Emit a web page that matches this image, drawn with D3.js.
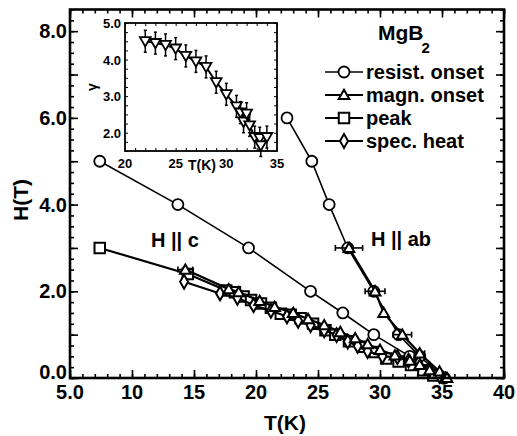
<!DOCTYPE html>
<html>
<head>
<meta charset="utf-8">
<script src="https://cdn.jsdelivr.net/npm/d3@7"></script>
<style>
  body { margin: 0; background: #fff; }
  text { font-family: "Liberation Sans", Arial, sans-serif; font-weight: bold; fill: #000; }
</style>
</head>
<body>
<svg id="chart" width="517" height="436"></svg>
<script>
// Main axis ticks
const xTicks = [5, 10, 15, 20, 25, 30, 35, 40];
const xTickLabels = ["5.0", "10", "15", "20", "25", "30", "35", "40"];
const yTicks = [0, 2, 4, 6, 8];
const yTickLabels = ["0.0", "2.0", "4.0", "6.0", "8.0"];

// resist. onset (circles)
const resistC_T = [7.4, 13.7, 19.4, 24.4, 27.0, 29.5, 32.4, 35.1];
const resistC_H = [5.0, 4.0, 3.0, 2.0, 1.5, 1.0, 0.5, 0.0];
const resistAB_T = [22.5, 24.5, 25.9, 27.4, 29.5, 31.5, 33.2, 35.2];
const resistAB_H = [6.0, 5.0, 4.0, 3.0, 2.0, 1.0, 0.5, 0.0];

// magn. onset (triangles) with T error
const magnAB_T = [27.5, 29.6, 30.3, 31.8, 33.2, 34.8, 35.4];
const magnAB_H = [3.0, 2.0, 1.5, 1.0, 0.57, 0.15, 0.0];
const magnAB_err = [1.1, 0.8, 0, 0.75, 0.4, 0, 0];
const magnC_T = [14.3, 17.8, 18.6, 20.3, 21.5, 23.0, 24.2, 25.5, 26.8, 28.0, 29.0, 30.0, 31.2, 32.4, 33.2, 34.0, 35.3];
const magnC_H = [2.5, 2.05, 1.98, 1.78, 1.64, 1.5, 1.36, 1.22, 1.06, 0.92, 0.78, 0.65, 0.52, 0.4, 0.3, 0.18, 0.0];
const magnC_err = [0.6, 0, 0, 0, 0, 0, 0, 0, 0, 0, 0, 0, 0, 0, 0, 0, 0];

// peak (squares)
const peak_T = [7.4, 14.5, 17.6, 18.3, 19.0, 19.6, 20.4, 21.2, 22.0, 22.8, 23.6, 24.6, 25.6, 26.4, 27.5, 28.6, 29.6, 30.5, 31.5, 32.5, 33.5, 34.3];
const peak_H = [3.0, 2.4, 2.02, 1.98, 1.88, 1.80, 1.72, 1.62, 1.48, 1.46, 1.38, 1.25, 1.10, 1.0, 0.85, 0.72, 0.6, 0.45, 0.38, 0.3, 0.18, 0.06];

// spec. heat (diamonds)
const spec_T = [14.2, 17.1, 18.5, 19.8, 21.2, 22.5, 23.4, 24.4, 25.5, 26.5, 27.4, 28.2, 29.0, 30.2, 31.4, 32.3, 33.1, 34.0, 34.8];
const spec_H = [2.22, 1.95, 1.85, 1.68, 1.55, 1.42, 1.32, 1.22, 1.1, 0.99, 0.84, 0.74, 0.62, 0.5, 0.48, 0.4, 0.34, 0.2, 0.05];

// Inset: gamma vs T
const inset_T = [22, 23, 24, 25, 26, 27, 28, 29, 30, 31, 31.4, 31.7, 32.0, 32.3, 32.8, 33.3, 33.4, 34.0];
const inset_G = [4.5, 4.45, 4.4, 4.3, 4.1, 3.95, 3.8, 3.38, 3.05, 2.72, 2.55, 2.3, 2.52, 2.2, 1.88, 1.85, 1.65, 1.88];
const inset_err = [0.3, 0.3, 0.3, 0.3, 0.3, 0.3, 0.3, 0.3, 0.3, 0.3, 0.3, 0.3, 0.3, 0.3, 0.3, 0.3, 0.3, 0.3];
const insetXTicks = [20, 25, 30, 35];
const insetYTicks = [2, 3, 4, 5];
const insetYTickLabels = ["2.0", "3.0", "4.0", "5.0"];

const legendNames = ["resist. onset", "magn. onset", "peak", "spec. heat"];

const svg = d3.select("#chart");

const x = d3.scaleLinear().domain([5, 40]).range([70, 504]);
const y = d3.scaleLinear().domain([0, 8.5]).range([378, 9.5]);

// Markers
function drawMarker(g, kind, cx, cy) {
  if (kind === "circle") {
    g.append("circle").attr("cx", cx).attr("cy", cy).attr("r", 5.5)
      .attr("fill", "#fff").attr("stroke", "#000").attr("stroke-width", 1.8);
  } else {
    const sym = { tri: d3.symbolTriangle, square: d3.symbolSquare, diamond: d3.symbolDiamond }[kind];
    const size = { tri: 50, square: 110, diamond: 55 }[kind];
    g.append("path").attr("d", d3.symbol().type(sym).size(size)())
      .attr("transform", `translate(${cx},${cy + (kind === "tri" ? 1 : 0)})`)
      .attr("fill", "#fff").attr("stroke", "#000").attr("stroke-width", 2);
  }
}

function drawSeries(Ts, Hs, kind, width, errs) {
  const pts = Ts.map((t, i) => [x(t), y(Hs[i])]);
  svg.append("path").attr("d", d3.line()(pts))
    .attr("fill", "none").attr("stroke", "#000").attr("stroke-width", width);
  if (errs) {
    Ts.forEach((t, i) => {
      if (!errs[i]) return;
      const yy = y(Hs[i]);
      svg.append("line").attr("x1", x(t - errs[i])).attr("x2", x(t + errs[i]))
        .attr("y1", yy).attr("y2", yy).attr("stroke", "#000").attr("stroke-width", 1.6);
      [t - errs[i], t + errs[i]].forEach(e => {
        svg.append("line").attr("x1", x(e)).attr("x2", x(e))
          .attr("y1", yy - 3).attr("y2", yy + 3).attr("stroke", "#000").attr("stroke-width", 1.6);
      });
    });
  }
  pts.forEach(p => drawMarker(svg, kind, p[0], p[1]));
}

// Data
drawSeries(resistC_T, resistC_H, "circle", 1.6);
drawSeries(resistAB_T, resistAB_H, "circle", 1.6);
drawSeries(peak_T, peak_H, "square", 2.2);
drawSeries(spec_T, spec_H, "diamond", 2.2);
drawSeries(magnC_T, magnC_H, "tri", 2.2, magnC_err);
drawSeries(magnAB_T, magnAB_H, "tri", 2.2, magnAB_err);

// Axes with inward ticks on all four sides
function tickRange(a, b, step) { return d3.range(a, b + step / 2, step); }
const xMinor = tickRange(5, 40, 1);
const yMinor = tickRange(0, 8.5, 0.25);

function addAxis(axisFn, scale, transform, values, size) {
  svg.append("g").attr("transform", transform)
    .call(axisFn(scale).tickValues(values).tickSize(size).tickFormat(""))
    .call(g => g.select(".domain").remove())
    .selectAll("line").attr("stroke-width", 1.6);
}
addAxis(d3.axisBottom, x, "translate(0,378)", xMinor, -4);
addAxis(d3.axisBottom, x, "translate(0,378)", xTicks, -8);
addAxis(d3.axisTop, x, "translate(0,9.5)", xMinor, -4);
addAxis(d3.axisTop, x, "translate(0,9.5)", xTicks, -8);
addAxis(d3.axisLeft, y, "translate(70,0)", yMinor, -4);
addAxis(d3.axisLeft, y, "translate(70,0)", d3.range(0, 9, 1), -8);
addAxis(d3.axisRight, y, "translate(504,0)", yMinor, -4);
addAxis(d3.axisRight, y, "translate(504,0)", d3.range(0, 9, 1), -8);

svg.append("rect").attr("x", 70).attr("y", 9.5).attr("width", 434).attr("height", 368.5)
  .attr("fill", "none").attr("stroke", "#000").attr("stroke-width", 2.6);

// Tick labels
xTicks.forEach((t, i) => {
  svg.append("text").attr("x", x(t)).attr("y", 399).attr("text-anchor", "middle")
    .attr("font-size", 20).text(xTickLabels[i]);
});
yTicks.forEach((t, i) => {
  svg.append("text").attr("x", 67).attr("y", y(t) + (t === 0 ? 1 : 7)).attr("text-anchor", "end")
    .attr("font-size", 20).text(yTickLabels[i]);
});

// Axis titles
svg.append("text").attr("x", 285).attr("y", 430).attr("text-anchor", "middle")
  .attr("font-size", 21).text("T(K)");
svg.append("text").attr("transform", "translate(28,200) rotate(-90)").attr("text-anchor", "middle")
  .attr("font-size", 21).text("H(T)");

// Annotations
svg.append("text").attr("x", 151).attr("y", 247).attr("font-size", 20).text("H || c");
svg.append("text").attr("x", 371).attr("y", 246).attr("font-size", 20).text("H || ab");

// Legend
const mg = svg.append("text").attr("x", 378).attr("y", 40).attr("font-size", 21).text("MgB");
mg.append("tspan").attr("dx", -2).attr("dy", 13).attr("font-size", 15).text("2");

const legendKinds = ["circle", "tri", "square", "diamond"];
legendNames.forEach((name, i) => {
  const ly = 72 + i * 23;
  svg.append("line").attr("x1", 325).attr("x2", 363).attr("y1", ly).attr("y2", ly)
    .attr("stroke", "#000").attr("stroke-width", i === 0 ? 1.3 : 2);
  drawMarker(svg, legendKinds[i], 344, ly);
  svg.append("text").attr("x", 366).attr("y", ly + 7).attr("font-size", 20).text(name);
});

// Inset
const ix = d3.scaleLinear().domain([20, 35]).range([125, 277]);
const iy = d3.scaleLinear().domain([1.5, 5.0]).range([151, 23]);
const inset = svg.append("g");
inset.append("rect").attr("x", 125).attr("y", 23).attr("width", 152).attr("height", 128)
  .attr("fill", "#fff").attr("stroke", "none");

inset.append("g").attr("transform", "translate(0,151)")
  .call(d3.axisBottom(ix).tickValues(tickRange(20, 35, 1)).tickSize(-3).tickFormat(""))
  .call(g => g.select(".domain").remove());
inset.append("g").attr("transform", "translate(0,23)")
  .call(d3.axisTop(ix).tickValues(tickRange(20, 35, 1)).tickSize(-3).tickFormat(""))
  .call(g => g.select(".domain").remove());
inset.append("g").attr("transform", "translate(125,0)")
  .call(d3.axisLeft(iy).tickValues(tickRange(1.5, 5, 0.25)).tickSize(-3).tickFormat(""))
  .call(g => g.select(".domain").remove());
inset.append("g").attr("transform", "translate(277,0)")
  .call(d3.axisRight(iy).tickValues(tickRange(1.5, 5, 0.25)).tickSize(-3).tickFormat(""))
  .call(g => g.select(".domain").remove());

// error bars and line
inset_T.forEach((t, i) => {
  inset.append("line").attr("x1", ix(t)).attr("x2", ix(t))
    .attr("y1", iy(inset_G[i] - inset_err[i])).attr("y2", iy(inset_G[i] + inset_err[i]))
    .attr("stroke", "#000").attr("stroke-width", 1.5);
  [inset_G[i] - inset_err[i], inset_G[i] + inset_err[i]].forEach(e => {
    inset.append("line").attr("x1", ix(t) - 1.5).attr("x2", ix(t) + 1.5)
      .attr("y1", iy(e)).attr("y2", iy(e)).attr("stroke", "#000").attr("stroke-width", 1.5);
  });
});
inset.append("path").attr("d", d3.line()(inset_T.map((t, i) => [ix(t), iy(inset_G[i])])))
  .attr("fill", "none").attr("stroke", "#000").attr("stroke-width", 2);
inset_T.forEach((t, i) => {
  inset.append("path").attr("d", d3.symbol().type(d3.symbolTriangle).size(50)())
    .attr("transform", `translate(${ix(t)},${iy(inset_G[i]) - 1}) rotate(180)`)
    .attr("fill", "#fff").attr("stroke", "#000").attr("stroke-width", 1.8);
});

inset.append("rect").attr("x", 125).attr("y", 23).attr("width", 152).attr("height", 128)
  .attr("fill", "none").attr("stroke", "#000").attr("stroke-width", 1.8);

insetXTicks.forEach(t => {
  inset.append("text").attr("x", ix(t)).attr("y", 168).attr("text-anchor", "middle")
    .attr("font-size", 13).text(t);
});
inset.append("text").attr("x", 202).attr("y", 170).attr("text-anchor", "middle")
  .attr("font-size", 14).text("T(K)");
insetYTicks.forEach((t, i) => {
  inset.append("text").attr("x", 121).attr("y", iy(t) + 5).attr("text-anchor", "end")
    .attr("font-size", 13).text(insetYTickLabels[i]);
});
inset.append("text").attr("transform", "translate(97,87) rotate(-90)").attr("text-anchor", "middle")
  .attr("font-size", 14).text("γ");
</script>
</body>
</html>
